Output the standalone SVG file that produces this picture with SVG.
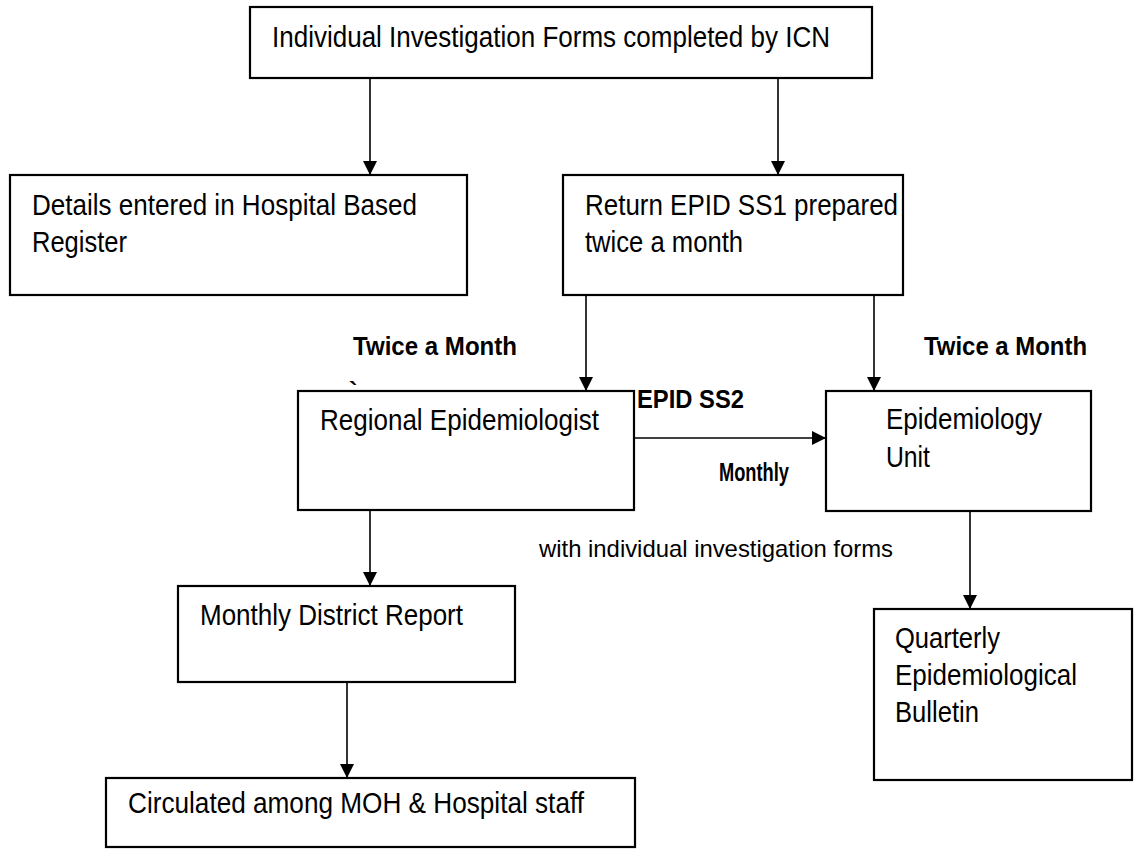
<svg xmlns="http://www.w3.org/2000/svg" width="1134" height="850" viewBox="0 0 1134 850">
<style>
.box{fill:#fff;stroke:#000;stroke-width:2.2}
.t{font-family:"Liberation Sans Narrow","Liberation Sans",Arial,sans-serif;font-size:29px;fill:#000}
.s{font-family:"Liberation Sans Narrow","Liberation Sans",Arial,sans-serif;font-size:24px;fill:#000}
.b{font-family:"Liberation Sans Narrow","Liberation Sans",Arial,sans-serif;font-size:25px;font-weight:bold;fill:#000}
.c{fill:none;stroke:#000;stroke-width:1.6}
</style>
<defs>
<marker id="ah" markerUnits="userSpaceOnUse" markerWidth="14" markerHeight="14" refX="14" refY="7" orient="auto">
<path d="M0,0 L14,7 L0,14 z" fill="#000"/>
</marker>
</defs>
<rect width="1134" height="850" fill="#fff"/>
<g id="connectors">
<line class="c" x1="370" y1="78" x2="370" y2="175" marker-end="url(#ah)"/>
<line class="c" x1="778" y1="78" x2="778" y2="175" marker-end="url(#ah)"/>
<line class="c" x1="586" y1="295" x2="586" y2="391" marker-end="url(#ah)"/>
<line class="c" x1="874" y1="295" x2="874" y2="391" marker-end="url(#ah)"/>
<line class="c" x1="634" y1="438" x2="826" y2="438" marker-end="url(#ah)"/>
<line class="c" x1="370" y1="510" x2="370" y2="586" marker-end="url(#ah)"/>
<line class="c" x1="347" y1="682" x2="347" y2="778" marker-end="url(#ah)"/>
<line class="c" x1="970" y1="511" x2="970" y2="609" marker-end="url(#ah)"/>
</g>
<g id="n-top">
<rect class="box" x="250" y="7" width="622" height="71"/>
<text class="t" x="272" y="47" textLength="558" lengthAdjust="spacingAndGlyphs">Individual Investigation Forms completed by ICN</text>
</g>
<g id="n-details">
<rect class="box" x="10" y="175" width="457" height="120"/>
<text class="t" x="32" y="215" textLength="385" lengthAdjust="spacingAndGlyphs">Details entered in Hospital Based</text>
<text class="t" x="32" y="252" textLength="95" lengthAdjust="spacingAndGlyphs">Register</text>
</g>
<g id="n-return">
<rect class="box" x="563" y="175" width="340" height="120"/>
<text class="t" x="585" y="215" textLength="313" lengthAdjust="spacingAndGlyphs">Return EPID SS1 prepared</text>
<text class="t" x="585" y="252" textLength="158" lengthAdjust="spacingAndGlyphs">twice a month</text>
</g>
<g id="n-regional">
<rect class="box" x="298" y="391" width="336" height="119"/>
<text class="t" x="320" y="430" textLength="279" lengthAdjust="spacingAndGlyphs">Regional Epidemiologist</text>
</g>
<g id="n-epiunit">
<rect class="box" x="826" y="391" width="265" height="120"/>
<text class="t" x="886" y="429" textLength="156" lengthAdjust="spacingAndGlyphs">Epidemiology</text>
<text class="t" x="886" y="467" textLength="44" lengthAdjust="spacingAndGlyphs">Unit</text>
</g>
<g id="n-monthly">
<rect class="box" x="178" y="586" width="337" height="96"/>
<text class="t" x="200" y="625" textLength="263" lengthAdjust="spacingAndGlyphs">Monthly District Report</text>
</g>
<g id="n-circulated">
<rect class="box" x="106" y="778" width="529" height="69"/>
<text class="t" x="128" y="813" textLength="456" lengthAdjust="spacingAndGlyphs">Circulated among MOH &amp; Hospital staff</text>
</g>
<g id="n-quarterly">
<rect class="box" x="874" y="609" width="258" height="171"/>
<text class="t" x="895" y="648" textLength="105" lengthAdjust="spacingAndGlyphs">Quarterly</text>
<text class="t" x="895" y="685" textLength="182" lengthAdjust="spacingAndGlyphs">Epidemiological</text>
<text class="t" x="895" y="722" textLength="84" lengthAdjust="spacingAndGlyphs">Bulletin</text>
</g>
<g id="labels">
<text class="b" x="353" y="355" textLength="164" lengthAdjust="spacingAndGlyphs">Twice a Month</text>
<text class="b" x="349" y="400">`</text>
<text class="b" x="924" y="355" textLength="163" lengthAdjust="spacingAndGlyphs">Twice a Month</text>
<text class="b" x="637" y="408" textLength="107" lengthAdjust="spacingAndGlyphs">EPID SS2</text>
<text class="b" x="719" y="481" textLength="70" lengthAdjust="spacingAndGlyphs">Monthly</text>
<text class="s" x="539" y="557" textLength="354" lengthAdjust="spacingAndGlyphs">with individual investigation forms</text>
</g>
</svg>
